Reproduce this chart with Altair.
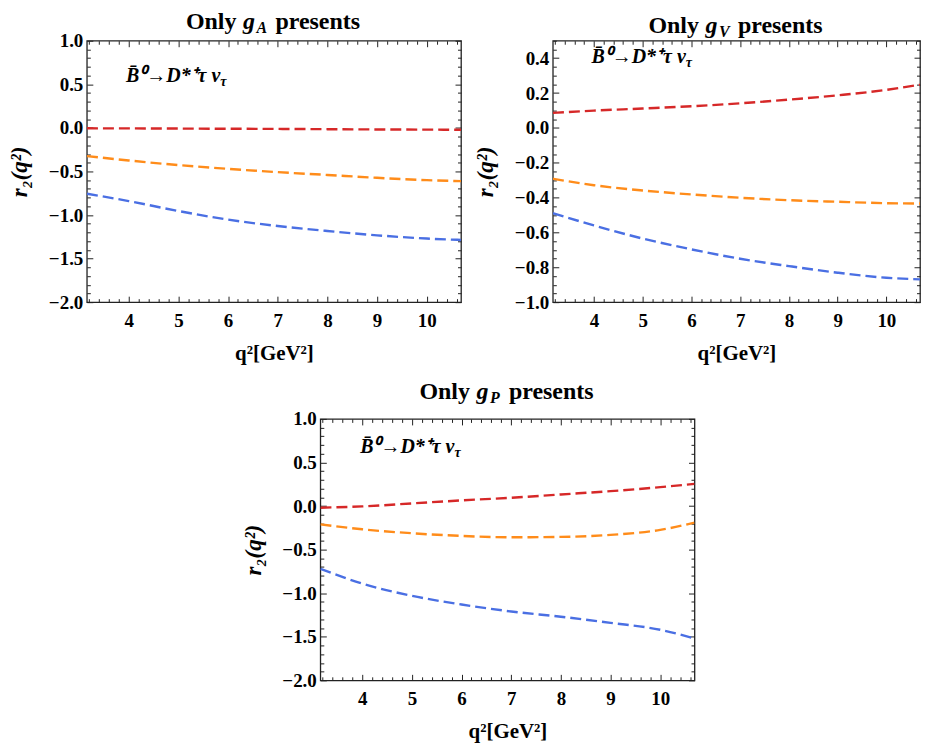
import altair as alt
import pandas as pd
import numpy as np

# ---------------- data ----------------
q = [3.16, 4, 5, 6, 7, 8, 9, 10, 10.69]
series = ["s1", "s2", "s3"]
colors = ["#d62828", "#ff8c1a", "#4a6fe3"]

gA_red = [-0.005, -0.006, -0.008, -0.010, -0.012, -0.015, -0.018, -0.020, -0.022]
gA_orange = [-0.324, -0.374, -0.427, -0.470, -0.508, -0.540, -0.573, -0.600, -0.611]
gA_blue = [-0.756, -0.840, -0.954, -1.053, -1.126, -1.183, -1.233, -1.270, -1.286]

gV_red = [0.086, 0.099, 0.111, 0.124, 0.141, 0.162, 0.187, 0.218, 0.248]
gV_orange = [-0.292, -0.329, -0.359, -0.382, -0.401, -0.415, -0.424, -0.432, -0.434]
gV_blue = [-0.489, -0.560, -0.635, -0.697, -0.751, -0.793, -0.831, -0.860, -0.869]

gP_red = [-0.019, -0.004, 0.030, 0.065, 0.095, 0.133, 0.171, 0.217, 0.255]
gP_orange = [-0.210, -0.267, -0.312, -0.343, -0.358, -0.354, -0.331, -0.274, -0.190]
gP_blue = [-0.720, -0.890, -1.030, -1.130, -1.210, -1.270, -1.340, -1.420, -1.520]

x_major = [4, 5, 6, 7, 8, 9, 10]
y_major_wide = [-2.0, -1.5, -1.0, -0.5, 0.0, 0.5, 1.0]
y_major_narrow = [-1.0, -0.8, -0.6, -0.4, -0.2, 0.0, 0.2, 0.4]

ann_text = "B\u0304\u2070\u2192D*\u207a\u03c4 \u03bd"
ann_sub = "\u03c4"
ann_x = [5.844, 5.884, 5.858]
ann_y = [0.522, 0.37, 0.607]

x_title = "q\u00b2[GeV\u00b2]"
y_title = "r\u2082(q\u00b2)"

# ---------------- layout constants ----------------
H = 262
XMIN, XMAX = 3.157, 10.69
FONT = "Liberation Serif"


def minor(lo, hi, step, major_step):
    out = []
    n = int(round((hi - lo) / step))
    for i in range(n + 1):
        v = round(lo + i * step, 3)
        k = v / major_step
        if abs(k - round(k)) > 1e-6:
            out.append(v)
    return out


x_minor = minor(3.2, 10.6, 0.2, 1.0)
y_minor_wide = minor(-2.0, 1.0, 0.1, 0.5)
y_minor_narrow = minor(-1.0, 0.5, 0.05, 0.2)

LBL = dict(labelFont=FONT, labelFontSize=19, labelFontWeight="bold",
           labelColor="black", titleFont=FONT, titleFontWeight="bold",
           titleColor="black")


def panel(sub, reds, oranges, blues, ydom, ymaj, ymin, ai, title_y, W):
    n = len(q)
    df = pd.DataFrame({
        "q": q * 3,
        "r": reds + oranges + blues,
        "s": [series[0]] * n + [series[1]] * n + [series[2]] * n,
    })
    xs = alt.Scale(domain=[XMIN, XMAX], nice=False, zero=False)
    ys = alt.Scale(domain=ydom, nice=False, zero=False)
    base = alt.Chart(df)

    lines = base.mark_line(
        strokeDash=[11, 5], strokeWidth=2.4, interpolate="monotone", clip=True
    ).encode(
        x=alt.X("q:Q", scale=xs, axis=alt.Axis(
            orient="bottom", values=x_major, format="d", ticks=False, tickSize=0,
            domain=False, labelPadding=9, minExtent=28, maxExtent=28,
            labelFlush=False, title=x_title, titlePadding=12, titleFontSize=21,
            **LBL)),
        y=alt.Y("r:Q", scale=ys, axis=alt.Axis(
            orient="left", values=ymaj, format=".1f", ticks=False, tickSize=0,
            domain=False, labelPadding=4, minExtent=43, maxExtent=43,
            labelFlush=False, title=y_title, titlePadding=12, titleFontSize=23,
            titleFontStyle="italic", **LBL)),
        color=alt.Color("s:N", scale=alt.Scale(domain=series, range=colors),
                        legend=None),
    )

    def tick_layer(xo, yo, xv, yv, size):
        return base.mark_point(opacity=0, size=1).encode(
            x=alt.X("q:Q", scale=xs, axis=alt.Axis(
                orient=xo, offset=-H, values=xv, labels=False, domain=False,
                title=None, ticks=True, tickSize=size)),
            y=alt.Y("r:Q", scale=ys, axis=alt.Axis(
                orient=yo, offset=-W, values=yv, labels=False, domain=False,
                title=None, ticks=True, tickSize=size)),
        )

    t1 = tick_layer("top", "right", x_major, ymaj, 6)
    t2 = tick_layer("bottom", "left", x_major, ymaj, 6)
    t3 = tick_layer("top", "right", x_minor, ymin, 3.5)
    t4 = tick_layer("bottom", "left", x_minor, ymin, 3.5)

    adf = pd.DataFrame({"x": [ann_x[ai]], "y": [ann_y[ai]],
                        "t": [ann_text], "u": [ann_sub]})
    ann = alt.Chart(adf).mark_text(
        align="right", baseline="alphabetic", font=FONT, fontSize=20,
        fontWeight="bold", fontStyle="italic", color="black"
    ).encode(
        x=alt.X("x:Q", scale=xs, axis=None),
        y=alt.Y("y:Q", scale=ys, axis=None),
        text="t:N",
    )
    ann2 = alt.Chart(adf).mark_text(
        align="left", baseline="alphabetic", font=FONT, fontSize=14, dy=4,
        fontWeight="bold", fontStyle="italic", color="black"
    ).encode(
        x=alt.X("x:Q", scale=xs, axis=None),
        y=alt.Y("y:Q", scale=ys, axis=None),
        text="u:N",
    )

    def piece(txt, px, align, size, style, dy=0):
        return alt.Chart(pd.DataFrame({"t": [txt]})).mark_text(
            align=align, baseline="alphabetic", font=FONT, fontSize=size,
            fontWeight="bold", fontStyle=style, color="black", dy=dy
        ).encode(x=alt.value(px), y=alt.value(title_y), text="t:N")

    c = W / 2
    title = [
        piece("Only", c - 37.5, "right", 24, "normal"),
        piece("g", c - 31, "left", 24, "italic"),
        piece(sub, c - 17.5, "left", 16, "italic", 4),
        piece("presents", c + 1.5, "left", 24, "normal"),
    ]

    return alt.layer(lines, t1, t2, t3, t4, ann, ann2, *title).resolve_axis(
        x="independent", y="independent"
    ).properties(
        width=W, height=H,
        view=alt.ViewBackground(stroke="#222222", strokeWidth=1.3),
    )


p1 = panel("A", gA_red, gA_orange, gA_blue, [-2.0, 1.0], y_major_wide, y_minor_wide, 0, -12, 375)
p2 = panel("V", gV_red, gV_orange, gV_blue, [-1.0, 0.5], y_major_narrow, y_minor_narrow, 1, -7.5, 368)
p3 = panel("P", gP_red, gP_orange, gP_blue, [-2.0, 1.0], y_major_wide, y_minor_wide, 2, -20, 375)

spacer = alt.Chart(pd.DataFrame({"a": [0]})).mark_point(opacity=0).encode(
    x=alt.value(0), y=alt.value(0)
).properties(width=224, height=10)

row1 = alt.hconcat(p1, p2, spacing=92, bounds="flush")
row2 = alt.hconcat(spacer, p3, spacing=10, bounds="flush")

chart = alt.vconcat(row1, row2, spacing=15).properties(padding=0).configure_view(
    stroke=None
).configure_axis(
    labelFont=FONT, labelFontSize=19, labelFontWeight="bold", labelColor="black",
    titleFont=FONT, titleFontSize=20, titleFontWeight="bold", titleColor="black",
    grid=False, tickColor="#222222", tickWidth=1,
)

chart.save("out.html", embed_options={"renderer": "svg", "actions": False})
